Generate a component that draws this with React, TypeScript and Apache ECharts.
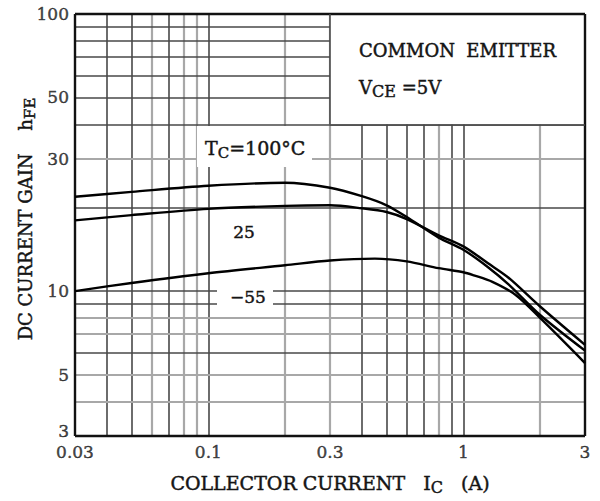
import React, { useEffect, useRef } from "react";
import * as echarts from "echarts";

const FONT = "DejaVu Serif";
const INK = "#151515";
const DARK = "#484848";
const LIGHT = "#a8a8a8";
const STROKE = 0.45;

// tick labels
const xTicks = [0.03, 0.1, 0.3, 1, 3];
const yTicks = [3, 5, 10, 30, 50, 100];

// grid lines
const xGridDark = [0.04, 0.05, 0.07, 0.1, 0.4, 0.5, 0.6, 0.7, 0.9, 1];
const xGridLight = [0.06, 0.08, 0.09, 0.2, 0.3, 0.8, 2];
const yGridDark = [6, 9, 10, 20, 40, 50, 60, 70, 80, 90];
const yGridLight = [4, 5, 7, 8, 30];

// curves: collector current (A) vs hFE
const ic100 = [0.03, 0.05, 0.1, 0.2, 0.3, 0.4, 0.5, 0.6, 0.8, 1, 1.25, 1.5, 2, 3];
const hfe100 = [21.9, 22.8, 24.0, 24.6, 23.6, 22.0, 20.4, 18.5, 15.6, 14.1, 12.2, 10.6, 8.2, 6.1];
const ic25 = [0.03, 0.05, 0.1, 0.2, 0.3, 0.4, 0.5, 0.6, 0.8, 1, 1.25, 1.5, 2, 3];
const hfe25 = [18.0, 18.8, 19.8, 20.3, 20.4, 19.9, 19.3, 18.2, 15.9, 14.5, 12.6, 11.2, 8.8, 6.4];
const icM55 = [0.03, 0.05, 0.1, 0.2, 0.3, 0.45, 0.6, 0.8, 1, 1.1, 1.3, 1.6, 2, 3];
const hfeM55 = [10.0, 10.7, 11.6, 12.4, 12.9, 13.1, 12.8, 12.1, 11.7, 11.4, 10.8, 9.7, 8.0, 5.5];

const zip = (xs: number[], ys: number[]) => xs.map((x, i) => [x, ys[i]]);

const txt = { fontFamily: FONT, color: INK, textBorderColor: INK, textBorderWidth: STROKE };
const subRich = (size: number) => ({
  s: { ...txt, fontSize: size, verticalAlign: "bottom", lineHeight: 14 },
});
const gtxt = { fontFamily: FONT, fill: INK, stroke: INK, lineWidth: STROKE };

export default function App() {
  const ref = useRef<HTMLDivElement>(null);
  useEffect(() => {
    document.body.style.margin = "0";
    const chart = echarts.init(ref.current!, null, { renderer: "svg" });

    const gridLines: any[] = [
      ...xGridDark.map((v) => ({ xAxis: v, lineStyle: { color: DARK, width: 1.6, type: "solid" } })),
      ...xGridLight.map((v) => ({ xAxis: v, lineStyle: { color: LIGHT, width: 2.2, type: "solid" } })),
      ...yGridDark.map((v) => ({ yAxis: v, lineStyle: { color: DARK, width: 1.6, type: "solid" } })),
      ...yGridLight.map((v) => ({ yAxis: v, lineStyle: { color: LIGHT, width: 2.2, type: "solid" } })),
    ];

    const frame: any[] = [
      [{ coord: [0.03, 3] }, { coord: [3, 3] }],
      [{ coord: [0.03, 100] }, { coord: [3, 100] }],
      [{ coord: [0.03, 3] }, { coord: [0.03, 100] }],
      [{ coord: [3, 3] }, { coord: [3, 100] }],
    ].map((seg) => seg.map((p, i) => (i === 0 ? { ...p, lineStyle: { color: "#111", width: 2.4, type: "solid" } } : p)));
    const boxEdges: any[] = [
      [{ coord: [0.3, 40] }, { coord: [0.3, 100] }],
      [{ coord: [0.3, 40] }, { coord: [3, 40] }],
    ].map((seg) => seg.map((p, i) => (i === 0 ? { ...p, lineStyle: { color: DARK, width: 1.6, type: "solid" } } : p)));

    const curveStyle = { color: "#000", width: 2.4 };
    const curve = (name: string, xs: number[], ys: number[]) => ({
      name,
      type: "line",
      z: 10,
      smooth: 0.3,
      symbol: "none",
      silent: true,
      lineStyle: curveStyle,
      data: zip(xs, ys),
    });

    const option: any = {
      animation: false,
      backgroundColor: "#fff",
      grid: { left: 75, right: 15, top: 14, bottom: 65, containLabel: false },
      xAxis: {
        type: "log",
        logBase: 10,
        min: 0.03,
        max: 3,
        axisLine: { show: false },
        axisTick: { show: false },
        axisLabel: { show: false },
        splitLine: { show: false },
        name: "COLLECTOR CURRENT   {i|I}{s|C}   (A)",
        nameLocation: "middle",
        nameGap: 47,
        nameTextStyle: {
          ...txt,
          fontSize: 19,
          lineHeight: 24,
          verticalAlign: "middle",
          rich: { i: { ...txt, fontSize: 19, lineHeight: 24 }, ...subRich(16) },
        },
      },
      yAxis: {
        type: "log",
        logBase: 10,
        min: 3,
        max: 100,
        axisLine: { show: false },
        axisTick: { show: false },
        axisLabel: { show: false },
        splitLine: { show: false },
        name: "DC CURRENT GAIN    {h|h}{s|FE}",
        nameLocation: "middle",
        nameGap: 50,
        nameRotate: 90,
        nameTextStyle: {
          ...txt,
          fontSize: 18,
          lineHeight: 24,
          verticalAlign: "middle",
          padding: [0, 0, 0, 12],
          rich: { h: { ...txt, fontSize: 18, lineHeight: 24 }, ...subRich(15) },
        },
      },
      series: [
        {
          name: "xticks",
          type: "scatter",
          symbolSize: 0,
          silent: true,
          data: xTicks.map((v) => [v, 3]),
          label: {
            show: true,
            position: "bottom",
            distance: 7,
            ...txt,
            fontSize: 17,
            formatter: (p: any) => String(p.value[0]),
          },
          markLine: {
            silent: true,
            symbol: ["none", "none"],
            label: { show: false },
            z: 5,
            data: gridLines,
          },
          markArea: {
            silent: true,
            z: 6,
            itemStyle: { color: "#fff" },
            data: [[{ coord: [0.3, 40] }, { coord: [3, 100] }]],
          },
        },
        {
          name: "yticks",
          type: "scatter",
          symbolSize: 0,
          silent: true,
          data: yTicks.map((v) => ({
            value: [0.03, v],
            label: v === 3 ? { offset: [0, -5] } : {},
          })),
          label: {
            show: true,
            position: "left",
            distance: 6,
            ...txt,
            fontSize: 17,
            formatter: (p: any) => String(p.value[1]),
          },
        },
        curve("100", ic100, hfe100),
        curve("25", ic25, hfe25),
        {
          ...curve("-55", icM55, hfeM55),
          markLine: {
            silent: true,
            symbol: ["none", "none"],
            label: { show: false },
            z: 7,
            data: [...frame, ...boxEdges],
          },
        },
      ],
      graphic: [
        { type: "rect", z: 90, shape: { x: 197, y: 126, width: 115, height: 41 }, style: { fill: "#fff" } },
        { type: "rect", z: 90, shape: { x: 217, y: 285, width: 56, height: 25 }, style: { fill: "#fff" } },
        {
          type: "text",
          z: 100,
          x: 205,
          y: 148,
          style: {
            ...gtxt,
            text: "T{s|C}=100°C",
            fontSize: 19,
            lineHeight: 24,
            align: "left",
            verticalAlign: "middle",
            rich: { s: { fontFamily: FONT, fontSize: 15, verticalAlign: "bottom", lineHeight: 14 } },
          },
        },
        {
          type: "text",
          z: 100,
          x: 244,
          y: 232,
          style: { ...gtxt, text: "25", fontSize: 17, align: "center", verticalAlign: "middle" },
        },
        {
          type: "text",
          z: 100,
          x: 248,
          y: 297,
          style: { ...gtxt, text: "\u221255", fontSize: 17, align: "center", verticalAlign: "middle" },
        },
        {
          type: "text",
          z: 100,
          x: 359,
          y: 50,
          style: { ...gtxt, text: "COMMON  EMITTER", fontSize: 18, align: "left", verticalAlign: "middle" },
        },
        {
          type: "text",
          z: 100,
          x: 359,
          y: 87,
          style: {
            ...gtxt,
            text: "V{s|CE} =5V",
            fontSize: 18,
            lineHeight: 24,
            align: "left",
            verticalAlign: "middle",
            rich: { s: { fontFamily: FONT, fontSize: 16, verticalAlign: "bottom", lineHeight: 14 } },
          },
        },
      ],
    };

    chart.setOption(option);
    return () => chart.dispose();
  }, []);
  return <div ref={ref} style={{ width: 600, height: 501 }} />;
}
